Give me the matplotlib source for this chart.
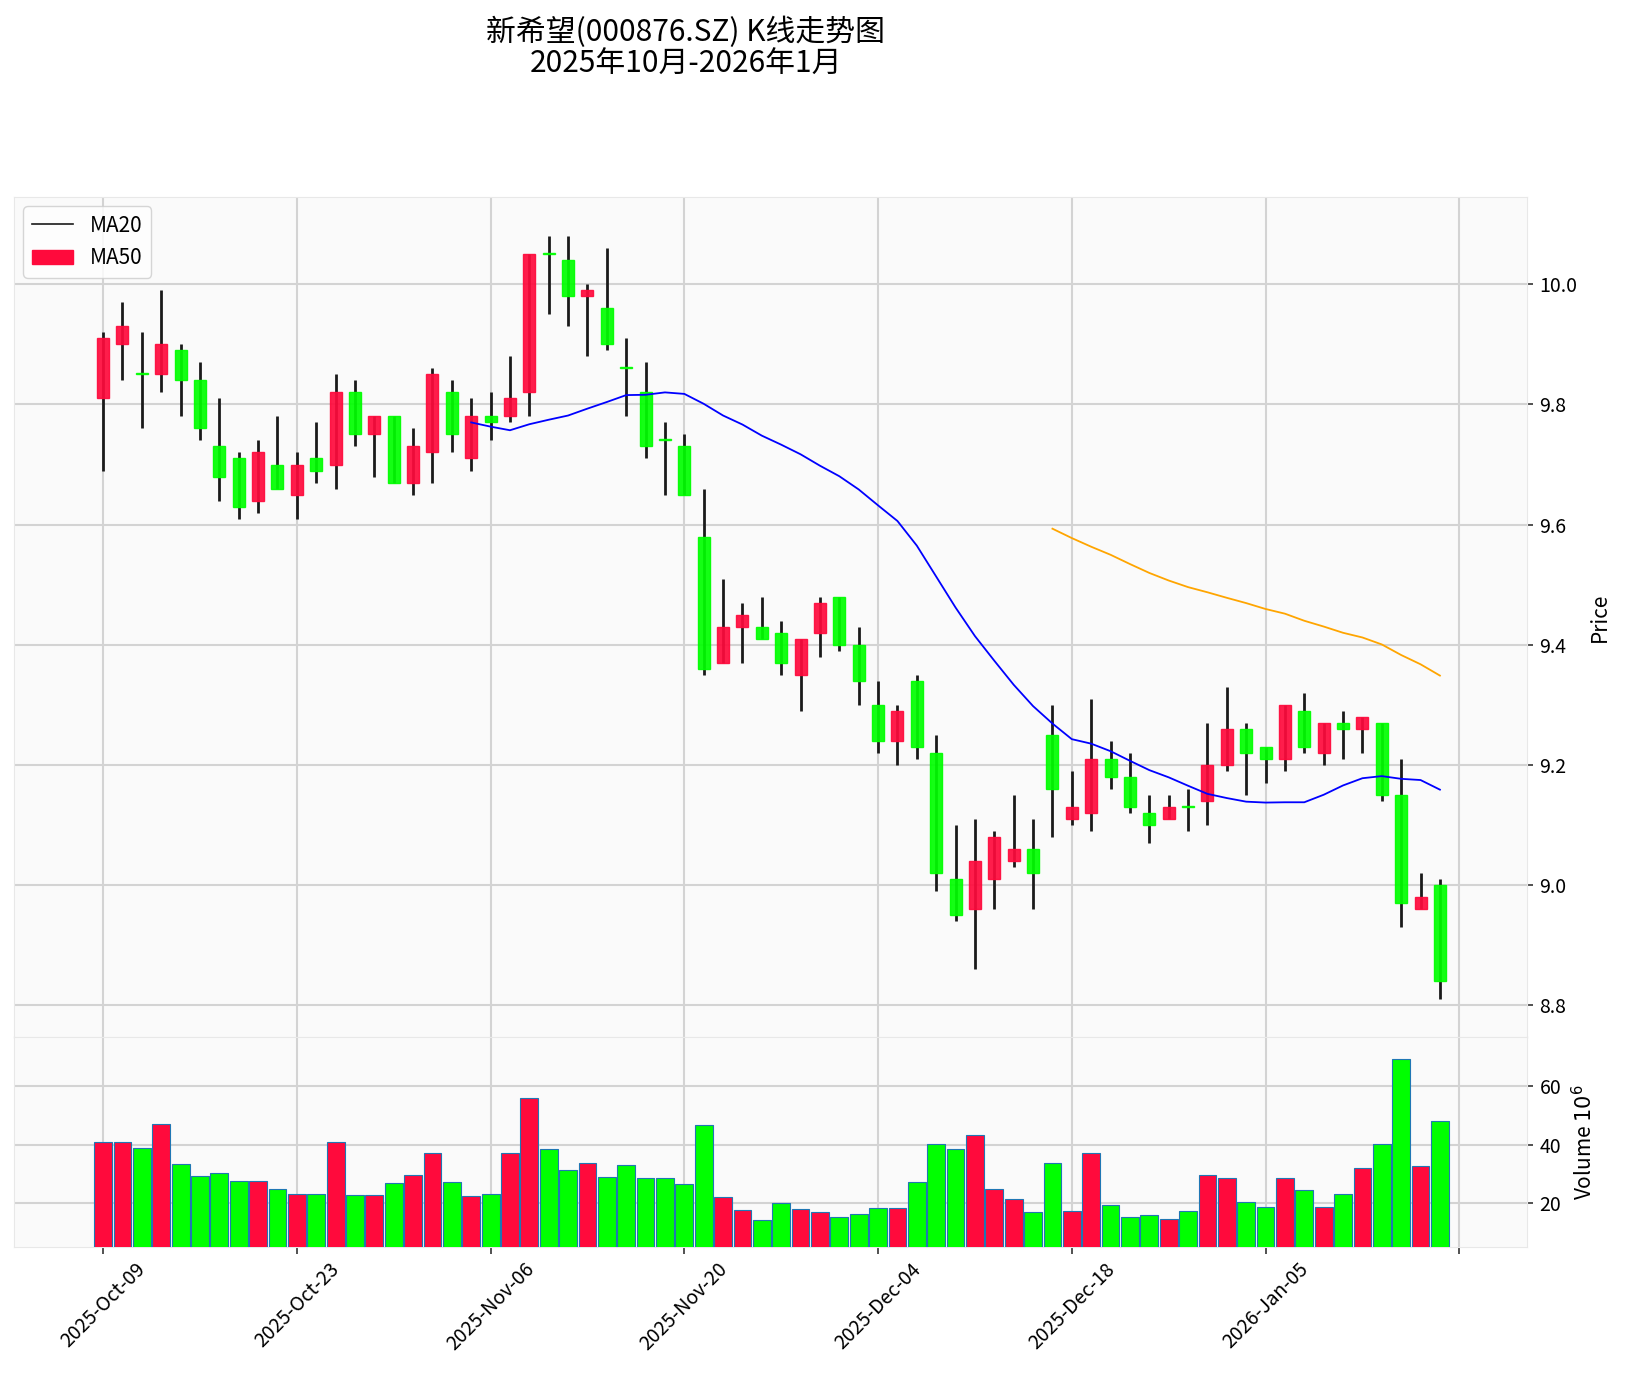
import numpy as np
import pandas as pd
import matplotlib
matplotlib.use("Agg")
import matplotlib.pyplot as plt
from matplotlib.lines import Line2D
from matplotlib.patches import Patch

plt.rcParams['font.family'] = ['Noto Sans CJK SC', 'DejaVu Sans']

# --- data ---
opens = [9.81, 9.90, 9.85, 9.85, 9.89, 9.84, 9.73, 9.71, 9.64, 9.70,
         9.65, 9.71, 9.70, 9.82, 9.75, 9.78, 9.67, 9.72, 9.82, 9.71,
         9.78, 9.78, 9.82, 10.05, 10.04, 9.98, 9.96, 9.86, 9.82, 9.74,
         9.73, 9.58, 9.37, 9.43, 9.43, 9.42, 9.35, 9.42, 9.48, 9.40,
         9.30, 9.24, 9.34, 9.22, 9.01, 8.96, 9.01, 9.04, 9.06, 9.25,
         9.11, 9.12, 9.21, 9.18, 9.12, 9.11, 9.13, 9.14, 9.20, 9.26,
         9.23, 9.21, 9.29, 9.22, 9.27, 9.26, 9.27, 9.15, 8.96, 9.00]
highs = [9.92, 9.97, 9.92, 9.99, 9.90, 9.87, 9.81, 9.72, 9.74, 9.78,
         9.72, 9.77, 9.85, 9.84, 9.78, 9.78, 9.76, 9.86, 9.84, 9.81,
         9.82, 9.88, 10.05, 10.08, 10.08, 10.00, 10.06, 9.91, 9.87, 9.77,
         9.75, 9.66, 9.51, 9.47, 9.48, 9.44, 9.41, 9.48, 9.48, 9.43,
         9.34, 9.30, 9.35, 9.25, 9.10, 9.11, 9.09, 9.15, 9.11, 9.30,
         9.19, 9.31, 9.24, 9.22, 9.15, 9.15, 9.16, 9.27, 9.33, 9.27,
         9.23, 9.30, 9.32, 9.27, 9.29, 9.28, 9.27, 9.21, 9.02, 9.01]
lows = [9.69, 9.84, 9.76, 9.82, 9.78, 9.74, 9.64, 9.61, 9.62, 9.66,
        9.61, 9.67, 9.66, 9.73, 9.68, 9.67, 9.65, 9.67, 9.72, 9.69,
        9.74, 9.77, 9.78, 9.95, 9.93, 9.88, 9.89, 9.78, 9.71, 9.65,
        9.65, 9.35, 9.37, 9.37, 9.41, 9.35, 9.29, 9.38, 9.39, 9.30,
        9.22, 9.20, 9.21, 8.99, 8.94, 8.86, 8.96, 9.03, 8.96, 9.08,
        9.10, 9.09, 9.16, 9.12, 9.07, 9.11, 9.09, 9.10, 9.19, 9.15,
        9.17, 9.19, 9.22, 9.20, 9.21, 9.22, 9.14, 8.93, 8.96, 8.81]
closes = [9.91, 9.93, 9.85, 9.90, 9.84, 9.76, 9.68, 9.63, 9.72, 9.66,
          9.70, 9.69, 9.82, 9.75, 9.78, 9.67, 9.73, 9.85, 9.75, 9.78,
          9.77, 9.81, 10.05, 10.05, 9.98, 9.99, 9.90, 9.86, 9.73, 9.74,
          9.65, 9.36, 9.43, 9.45, 9.41, 9.37, 9.41, 9.47, 9.40, 9.34,
          9.24, 9.29, 9.23, 9.02, 8.95, 9.04, 9.08, 9.06, 9.02, 9.16,
          9.13, 9.21, 9.18, 9.13, 9.10, 9.13, 9.13, 9.20, 9.26, 9.22,
          9.21, 9.30, 9.23, 9.27, 9.26, 9.28, 9.15, 8.97, 8.98, 8.84]
volumes = [40.8, 40.8, 38.8, 47.1, 33.3, 29.3, 30.2, 27.5, 27.5, 24.7,
           23.1, 23.1, 40.8, 22.8, 22.8, 26.9, 29.6, 37.2, 27.1, 22.4,
           23.1, 37.2, 56.1, 38.6, 31.4, 33.8, 28.9, 33.1, 28.5, 28.5,
           26.5, 46.8, 22.1, 17.6, 14.2, 19.9, 17.9, 16.8, 15.1, 16.4,
           18.4, 18.4, 27.1, 40.2, 38.6, 43.3, 24.7, 21.3, 16.8, 33.6,
           17.1, 37.1, 19.2, 15.1, 15.8, 14.4, 17.1, 29.5, 28.6, 20.2,
           18.5, 28.5, 24.4, 18.5, 23.0, 32.0, 40.2, 69.4, 32.7, 48.2]
tick_labels = ['2025-Oct-09', '2025-Oct-23', '2025-Nov-06', '2025-Nov-20',
               '2025-Dec-04', '2025-Dec-18', '2026-Jan-05', '']

df = pd.DataFrame({'Open': opens, 'High': highs, 'Low': lows,
                   'Close': closes, 'Volume': volumes})
df['MA20'] = df['Close'].rolling(20).mean()
df['MA50'] = df['Close'].rolling(50).mean()

UP = '#ff0a3c'
DOWN = '#00ff00'

fig = plt.figure(figsize=(16.27, 13.8), dpi=100)
ax = fig.add_axes([0.0086, 0.2488, 0.9300, 0.6084])
axv = fig.add_axes([0.0086, 0.0963, 0.9300, 0.1525], sharex=ax)

for a in (ax, axv):
    a.set_facecolor('#fafafa')
    a.grid(True, color='#d3d3d3', linewidth=1.5)
    a.set_axisbelow(True)
    for s in a.spines.values():
        s.set_color('#e8e8e8')
    a.yaxis.tick_right()
    a.yaxis.set_label_position('right')
    a.tick_params(axis='y', length=4, width=1.2, color='#333333',
                  labelsize=14, pad=5)

x = np.arange(len(df))
up = df['Close'] > df['Open']
colors = np.where(up, UP, DOWN)

# wicks
ax.vlines(x, df['Low'], df['High'], color='#1a1a1a', linewidth=2, zorder=2)
# bodies
body_bot = np.minimum(df['Open'], df['Close'])
body_h = (df['Close'] - df['Open']).abs()
body_h = np.maximum(body_h, 0.002)
ax.bar(x, body_h, bottom=body_bot, width=0.62, color=colors,
       edgecolor=colors, linewidth=1, alpha=0.92, zorder=3)

ax.plot(x, df['MA20'], color='blue', linewidth=1.3, zorder=4)
ax.plot(x, df['MA50'], color='orange', linewidth=1.3, zorder=4)

ax.set_ylim(8.748, 10.145)
ax.set_yticks([8.8, 9.0, 9.2, 9.4, 9.6, 9.8, 10.0])
ax.set_yticklabels(['8.8', '9.0', '9.2', '9.4', '9.6', '9.8', '10.0'])
ax.set_ylabel('Price', fontsize=15, labelpad=8)
ax.tick_params(axis='x', labelbottom=False, length=0)

handles = [Line2D([0], [0], color='#1a1a1a', linewidth=1.2),
           Patch(facecolor=UP, edgecolor=UP)]
ax.legend(handles, ['MA20', 'MA50'], loc='upper left', fontsize=15,
          frameon=True, fancybox=True, framealpha=0.8, edgecolor='#cccccc',
          borderaxespad=0.45)

# volume
axv.bar(x, df['Volume'], width=0.92, color=colors, edgecolor='#1f77b4',
        linewidth=0.8, zorder=3)
axv.set_ylim(4.9, 77)
axv.set_yticks([20, 40, 60])
axv.set_ylabel('Volume $10^6$', fontsize=15, labelpad=8)

axv.set_xlim(-4.6, 73.5)
axv.set_xticks(np.arange(0, 71, 10))
axv.set_xticklabels(tick_labels, rotation=45, fontsize=14)
axv.tick_params(axis='x', length=5, width=1.2, color='#333333')

fig.text(0.4216, 0.988, '新希望(000876.SZ) K线走势图\n2025年10月-2026年1月',
         ha='center', va='top', fontsize=21.5, linespacing=1.05)

fig.savefig('out.png', dpi=100)
